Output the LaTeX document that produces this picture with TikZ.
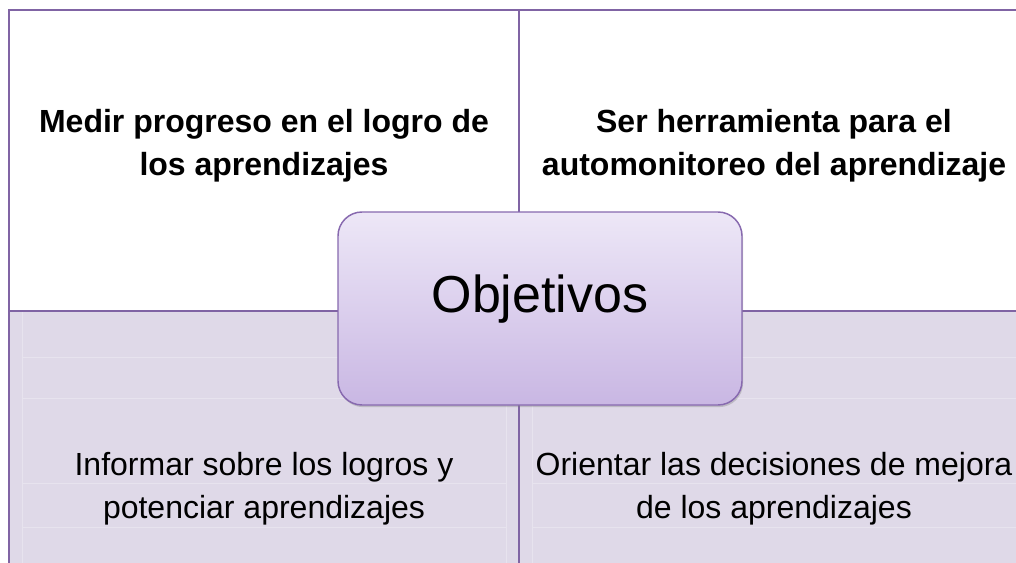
\documentclass[tikz,border=0pt]{standalone}
\usepackage{fontspec}
\setmainfont{Liberation Sans}
\usepackage{xcolor}
\usetikzlibrary{shadows}
\definecolor{framepurple}{RGB}{128,100,164}
\definecolor{lowerlilac}{RGB}{223,217,232}
\definecolor{gridlilac}{RGB}{231,227,238}
\definecolor{boxtop}{RGB}{237,231,247}
\definecolor{boxbottom}{RGB}{201,183,227}
\definecolor{boxline}{RGB}{135,105,175}

\begin{document}
\begin{tikzpicture}[x=0.75pt, y=-0.75pt,
    quadrant/.style={draw=framepurple, line width=1.6pt},
    guide/.style={draw=gridlilac, line width=0.5pt},
    goal/.style={align=center, text=black, font=\fontsize{24}{32.3}\selectfont},
    hub/.style={draw=boxline, line width=1.1pt, rounded corners=18pt,
        top color=boxtop, bottom color=boxbottom,
        minimum width=303pt, minimum height=144.75pt, inner sep=0pt,
        drop shadow={opacity=0.35, shadow xshift=0.8pt, shadow yshift=-1.6pt}}]
    \useasboundingbox (0,0) rectangle (1016,563);

    % Quadrants
    \fill[white] (9,10) rectangle (519,311);
    \fill[white] (519,10) rectangle (1030,311);
    \fill[lowerlilac] (9,311) rectangle (519,612);
    \fill[lowerlilac] (519,311) rectangle (1030,612);

    % Faint guides in the lower half
    \foreach \gy in {357,398,483,527} {
        \draw[guide] (22,\gy) -- (506,\gy);
        \draw[guide] (532,\gy) -- (1030,\gy);
    }
    \draw[guide] (22,311) -- (22,612);
    \draw[guide] (506,398) -- (506,612);
    \draw[guide] (532,398) -- (532,612);

    \draw[quadrant] (9,10) rectangle (519,311);
    \draw[quadrant] (519,10) rectangle (1030,311);
    \draw[quadrant] (9,311) rectangle (519,612);
    \draw[quadrant] (519,311) rectangle (1030,612);

    % Labels
    \node[goal, font=\fontsize{24}{32.3}\selectfont\bfseries] (medir) at (264,146)
        {Medir progreso en el logro de\\los aprendizajes};
    \node[goal, font=\fontsize{24}{32.3}\selectfont\bfseries] (ser) at (774,146)
        {Ser herramienta para el\\automonitoreo del aprendizaje};
    \node[goal] (informar) at (264,489)
        {Informar sobre los logros y\\potenciar aprendizajes};
    \node[goal] (orientar) at (774,489)
        {Orientar las decisiones de mejora\\de los aprendizajes};

    % Centre box
    \node[hub] (obj) at (540,308.5) {};
    \node[anchor=base, font=\fontsize{39}{46}\selectfont] (objlabel) at (540,312) {Objetivos};
\end{tikzpicture}
\end{document}
